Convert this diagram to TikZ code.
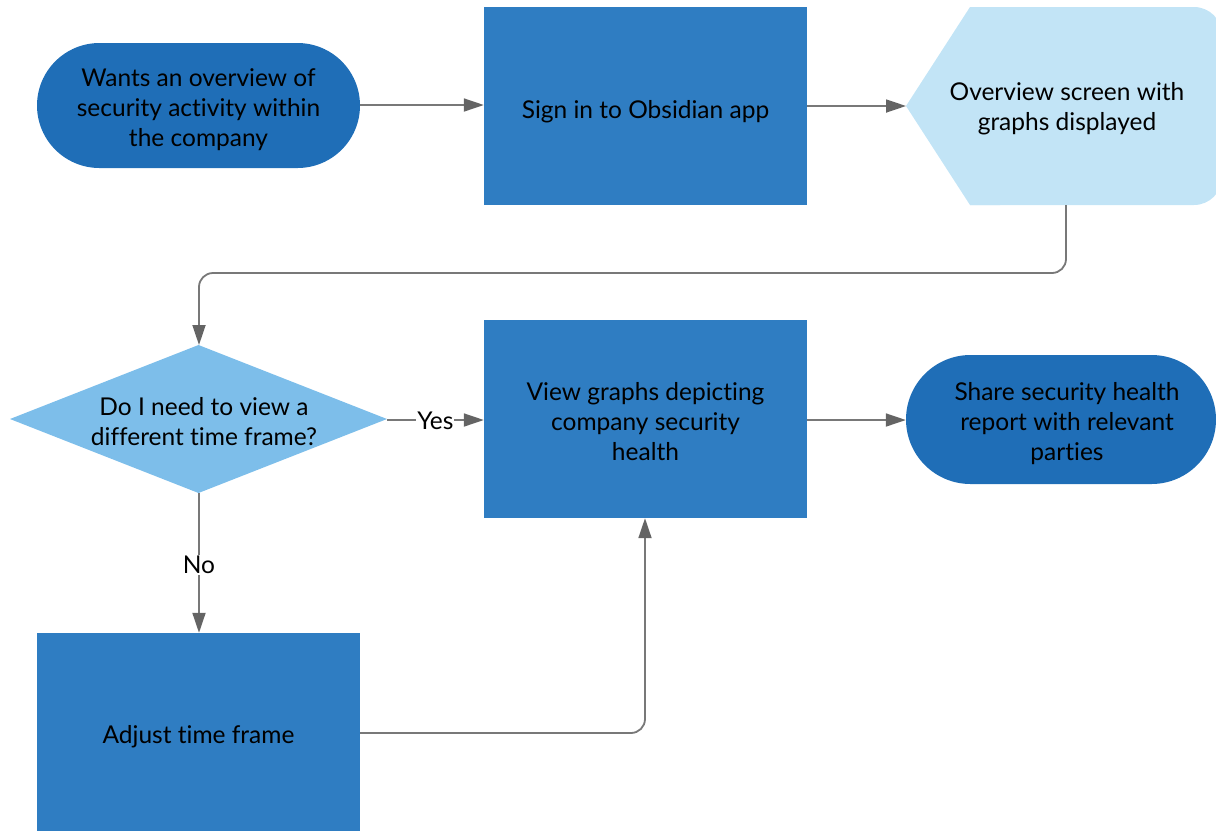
\documentclass[tikz,border=0pt]{standalone}
\usepackage{fontspec}
\setmainfont{Lato}[Ligatures=NoCommon]
\usetikzlibrary{arrows.meta,shapes.misc,positioning}
\definecolor{stadcol}{RGB}{31,110,183}
\definecolor{rectcol}{RGB}{47,125,194}
\definecolor{dispcol}{RGB}{194,228,246}
\definecolor{diacol}{RGB}{125,190,234}
\definecolor{linecol}{RGB}{120,120,120}
\definecolor{headcol}{RGB}{100,100,100}
\tikzset{
  procbox/.style={rectangle, fill=rectcol, minimum width=323pt, minimum height=198pt, inner sep=0pt, align=center},
  stadium/.style={rounded rectangle, fill=stadcol, inner sep=0pt, align=center},
  txt/.style={align=center, inner sep=0pt, font=\fontsize{24.5}{30}\selectfont, text=black},
  conn/.style={draw=linecol, line width=1.8pt, -{Triangle[length=20pt,width=13pt,fill=headcol,color=headcol]}},
  lbl/.style={fill=white, inner sep=1pt, font=\fontsize{24.5}{30}\selectfont}
}
\begin{document}
\begin{tikzpicture}[x=1pt,y=-1pt]
\useasboundingbox (0,0) rectangle (1216,831);
\clip (0,0) rectangle (1216,831);
% start stadium
\node[stadium, minimum width=323pt, minimum height=125pt] (start) at (198.5,105.5) {};
\node[txt] (starttxt) at (198.5,110) {Wants an overview of\\security activity within\\the company};
% sign in
\node[procbox] (signin) at (645.5,106) {};
\node[txt] (signintxt) at (645.5,112) {Sign in to Obsidian app};
% display shape
\fill[dispcol, rounded corners=28pt] (970,7) -- (1222,7) -- (1222,205) -- (970,205);
\fill[dispcol] (1000,7) -- (970,7) -- (906,106) -- (970,205) -- (1000,205) -- cycle;
\coordinate (disp) at (906,106);
\coordinate (dispbot) at (1066,205);
\node[txt] (disptxt) at (1067,109) {Overview screen with\\graphs displayed};
% diamond
\fill[diacol] (10,419) -- (198.5,345) -- (387,419) -- (198.5,493) -- cycle;
\coordinate (diaN) at (199,345);
\coordinate (diaE) at (387,420);
\coordinate (diaS) at (199,493);
\node[txt] (diatxt) at (204,421.5) {Do I need to view a\\different time frame?};
% view graphs
\node[procbox] (view) at (645.5,419) {};
\node[txt] (viewtxt) at (645.5,422) {View graphs depicting\\company security\\health};
% share stadium
\node[stadium, minimum width=310pt, minimum height=129pt] (share) at (1061,419.5) {};
\node[txt] (sharetxt) at (1067,424) {Share security health\\report with relevant\\parties};
% adjust
\node[procbox] (adjust) at (198.5,732) {};
\node[txt] (adjusttxt) at (198.5,737) {Adjust time frame};
% connectors
\draw[conn] (start.east |- 0,105) -- (signin.west |- 0,105);
\draw[conn] (signin.east |- disp) -- (disp);
\draw[conn, rounded corners=14pt] (dispbot) -- (1066,273) -- (199,273) -- (diaN);
\draw[conn] (diaE) -- (view.west |- diaE) node[lbl, pos=0.5, yshift=-1pt] (yes) {Yes};
\draw[conn] (view.east |- 0,420) -- (share.west |- 0,420);
\draw[conn] (diaS) -- (adjust.north -| diaS) node[lbl, pos=0.517] (no) {No};
\draw[conn, rounded corners=14pt] (adjust.east |- 0,733) -- (645,733) -- (view.south -| 645,0);
\end{tikzpicture}
\end{document}
